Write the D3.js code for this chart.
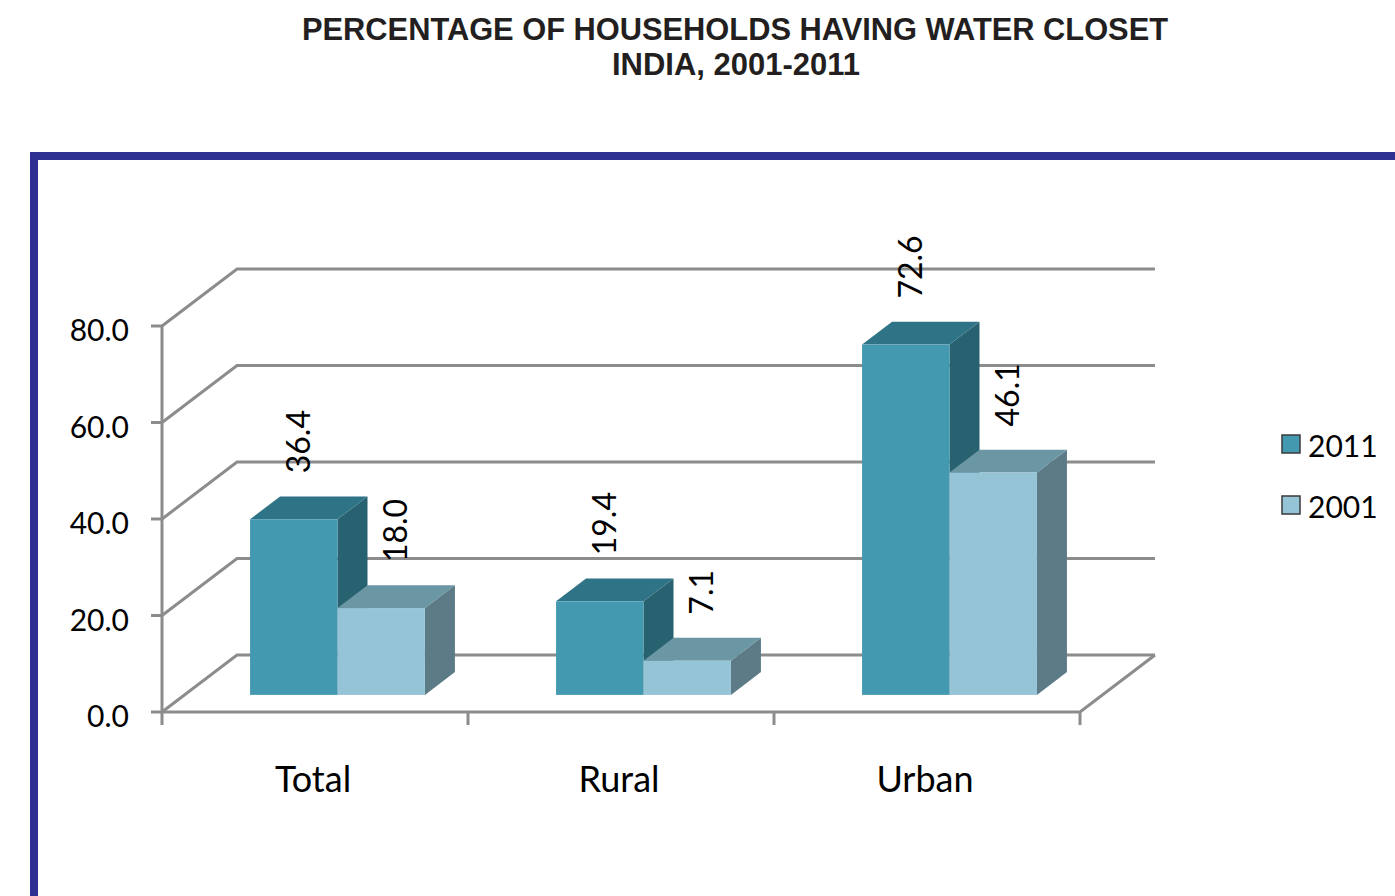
<!DOCTYPE html>
<html>
<head>
<meta charset="utf-8">
<script src="https://d3js.org/d3.v7.min.js"></script>
<style>
  body { margin: 0; background: #fff; }
  svg { display: block; }
</style>
</head>
<body>
<script>
  // data
  var categories = ["Total", "Rural", "Urban"];
  var seriesNames = ["2011", "2001"];
  var values2011 = [36.4, 19.4, 72.6];
  var values2001 = [18.0, 7.1, 46.1];
  var yTicks = [0, 20, 40, 60, 80];

  var width = 1395, height = 896;

  var svg = d3.select("body").append("svg")
    .attr("width", width)
    .attr("height", height);

  // title
  svg.append("text")
    .attr("x", 735).attr("y", 40)
    .attr("text-anchor", "middle")
    .attr("font-family", "Liberation Sans, Arial, sans-serif")
    .attr("font-weight", "bold").attr("font-size", 31)
    .attr("fill", "#231f20")
    .attr("textLength", 866).attr("lengthAdjust", "spacingAndGlyphs")
    .text("PERCENTAGE OF HOUSEHOLDS HAVING WATER CLOSET");
  svg.append("text")
    .attr("x", 736).attr("y", 75)
    .attr("text-anchor", "middle")
    .attr("font-family", "Liberation Sans, Arial, sans-serif")
    .attr("font-weight", "bold").attr("font-size", 31)
    .attr("fill", "#231f20")
    .attr("textLength", 248).attr("lengthAdjust", "spacingAndGlyphs")
    .text("INDIA, 2001-2011");

  // blue frame (runs off right and bottom)
  svg.append("rect")
    .attr("x", 34).attr("y", 156)
    .attr("width", 1500).attr("height", 900)
    .attr("fill", "none")
    .attr("stroke", "#2e3192").attr("stroke-width", 8);

  var x = d3.scaleBand().domain(categories).range([162, 1080]);
  var y = d3.scaleLinear().domain([0, 80]).range([712, 326]);
  var xs = d3.scaleBand().domain(seriesNames)
    .range([0, x.bandwidth()]).paddingInner(0).paddingOuter(0.75);

  // depth projection: z from 0 (front) to 1 (back wall)
  var depthX = 75, depthY = 57;
  function dx(z) { return depthX * z; }
  function dy(z) { return -depthY * z; }
  var zFront = 0.3, zBack = 0.7;

  var gridColor = "#8c8c8c";
  var grid = svg.append("g").attr("stroke", gridColor).attr("stroke-width", 3).attr("fill", "none");

  // back wall gridlines with left diagonal
  yTicks.forEach(function (v) {
    grid.append("path")
      .attr("d", d3.line()([
        [162, y(v)], [162 + dx(1), y(v) + dy(1)], [1080 + dx(1), y(v) + dy(1)]
      ]));
  });
  // floor front edge + right diagonal
  grid.append("path")
    .attr("d", d3.line()([[162, y(0)], [1080, y(0)], [1080 + dx(1), y(0) + dy(1)]]));
  // vertical axis
  grid.append("line")
    .attr("x1", 162).attr("x2", 162).attr("y1", y(80)).attr("y2", y(0) + 13);
  // y ticks
  yTicks.forEach(function (v) {
    grid.append("line").attr("x1", 151).attr("x2", 162).attr("y1", y(v)).attr("y2", y(v));
  });
  // category ticks
  categories.forEach(function (c) {
    var xx = x(c) + x.bandwidth();
    grid.append("line").attr("x1", xx).attr("x2", xx).attr("y1", y(0)).attr("y2", y(0) + 13);
  });

  // y tick labels
  svg.append("g").selectAll("text")
    .data(yTicks).enter().append("text")
    .attr("x", 129).attr("y", function (d) { return y(d) + 3; })
    .attr("text-anchor", "end")
    .attr("dominant-baseline", "central")
    .attr("font-family", "Lato, sans-serif").attr("font-size", 30)
    .attr("fill", "#000")
    .text(function (d) { return d.toFixed(1); });

  // category labels
  svg.append("g").selectAll("text")
    .data(categories).enter().append("text")
    .attr("x", function (d) { return x(d) + x.bandwidth() / 2 - 2; })
    .attr("y", 792)
    .attr("text-anchor", "middle")
    .attr("font-family", "Lato, sans-serif").attr("font-size", 36)
    .attr("fill", "#000")
    .text(function (d) { return d; });

  var palette = {
    "2011": { front: "#4299b0", top: "#2f7386", side: "#28616f", labelShift: 4 },
    "2001": { front: "#95c4d6", top: "#6b97a5", side: "#5c7b87", labelShift: 13 }
  };

  var bars = [];
  categories.forEach(function (c, i) {
    bars.push({ cat: c, s: "2011", v: values2011[i] });
    bars.push({ cat: c, s: "2001", v: values2001[i] });
  });

  var barG = svg.append("g");
  bars.forEach(function (b) {
    var x0 = x(b.cat) + xs(b.s) + dx(zFront);
    var x1 = x0 + xs.bandwidth();
    var yb = y(0) + dy(zFront);
    var yt = y(b.v) + dy(zFront);
    var ddx = dx(zBack) - dx(zFront), ddy = dy(zBack) - dy(zFront);
    var col = palette[b.s];
    // side
    barG.append("path")
      .attr("d", d3.line()([[x1, yt], [x1 + ddx, yt + ddy], [x1 + ddx, yb + ddy], [x1, yb]]) + "Z")
      .attr("fill", col.side);
    // top
    barG.append("path")
      .attr("d", d3.line()([[x0, yt], [x0 + ddx, yt + ddy], [x1 + ddx, yt + ddy], [x1, yt]]) + "Z")
      .attr("fill", col.top);
    // front
    barG.append("rect")
      .attr("x", x0).attr("y", yt)
      .attr("width", x1 - x0).attr("height", yb - yt)
      .attr("fill", col.front);
    // value label
    var lx = (x0 + x1) / 2 + col.labelShift, ly = yt - 46;
    barG.append("text")
      .attr("transform", "translate(" + lx + "," + ly + ") rotate(-90)")
      .attr("text-anchor", "start")
      .attr("dominant-baseline", "central")
      .attr("font-family", "Lato, sans-serif").attr("font-size", 32)
      .attr("fill", "#000")
      .text(b.v.toFixed(1));
  });

  // legend
  var legend = svg.append("g");
  seriesNames.forEach(function (s, i) {
    var ly = 435 + i * 61;
    legend.append("rect")
      .attr("x", 1282).attr("y", ly).attr("width", 18).attr("height", 18)
      .attr("fill", palette[s].front)
      .attr("stroke", "#3a3a3a").attr("stroke-width", 1.5);
    legend.append("text")
      .attr("x", 1308).attr("y", ly + 10)
      .attr("dominant-baseline", "central")
      .attr("font-family", "Lato, sans-serif").attr("font-size", 30)
      .attr("fill", "#000")
      .text(s);
  });
</script>
</body>
</html>
